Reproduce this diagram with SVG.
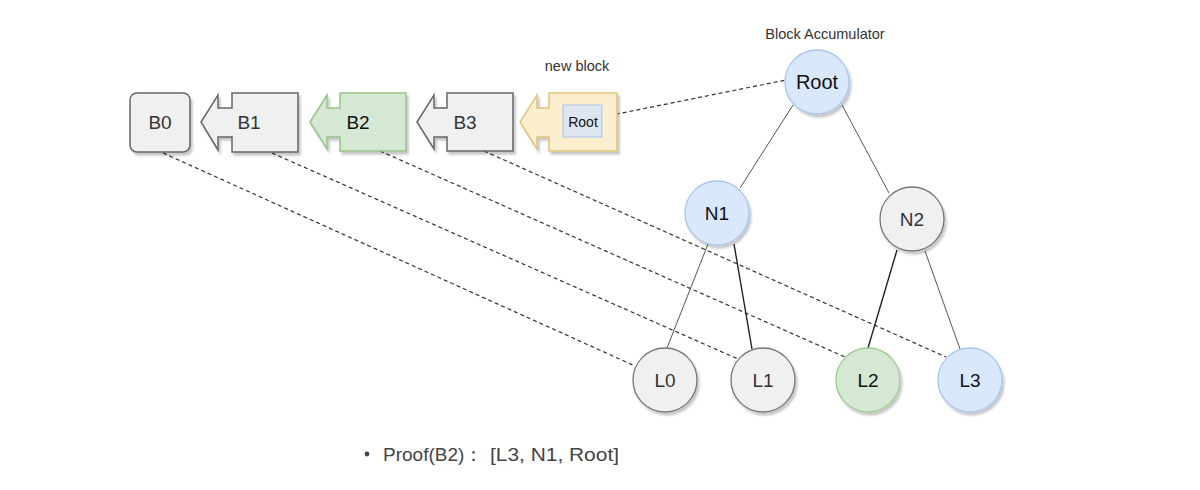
<svg xmlns="http://www.w3.org/2000/svg" width="1200" height="490" viewBox="0 0 1200 490">
<defs>
<filter id="sh" x="-20%" y="-20%" width="150%" height="150%">
<feDropShadow dx="2" dy="3" stdDeviation="1.2" flood-color="#000" flood-opacity="0.22"/>
</filter>
</defs>
<style>
text{font-family:"Liberation Sans",Arial,sans-serif;fill:#333;text-anchor:middle;}
.lbl{font-size:19px;}
.small{font-size:14.5px;}
.gray{fill:#f0f0f0;stroke:#666;stroke-width:1.5;}
.green{fill:#d5e8d4;stroke:#97c287;stroke-width:1.5;}
.yellow{fill:#fbefd0;stroke:#e0c477;stroke-width:1.5;}
.blue{fill:#dae8fc;stroke:#a9c4eb;stroke-width:1.5;}
.cgray{fill:#f0f0f0;stroke:#777;stroke-width:1.3;}
.cgreen{fill:#d5e8d4;stroke:#9fca8f;stroke-width:1.3;}
.cblue{fill:#dae8fc;stroke:#a9c4eb;stroke-width:1.3;}
.dash{stroke:#333;stroke-width:1.2;stroke-dasharray:4,3;fill:none;}
.tree{stroke:#555;stroke-width:1;fill:none;}
.treeb{stroke:#222;stroke-width:1.4;fill:none;}
</style>
<g id="connectors">
<line class="dash" x1="163" y1="153" x2="635" y2="366"/>
<line class="dash" x1="272" y1="153" x2="738" y2="359"/>
<line class="dash" x1="380" y1="151" x2="845" y2="357"/>
<line class="dash" x1="484" y1="151" x2="946" y2="357"/>
<line class="dash" x1="602" y1="117" x2="786" y2="80"/>
<line class="tree" x1="793" y1="105" x2="740" y2="188"/>
<line class="tree" x1="842" y1="105" x2="889" y2="193"/>
<line class="tree" x1="708" y1="244" x2="667" y2="348"/>
<line class="treeb" x1="734" y1="244" x2="752" y2="349"/>
<line class="treeb" x1="897" y1="250" x2="868" y2="348"/>
<line class="tree" x1="925" y1="251" x2="960" y2="349"/>
</g>
<g id="B0">
<rect class="gray" x="130" y="93" width="60" height="59" rx="7" filter="url(#sh)"/>
<text class="lbl" x="160" y="129">B0</text>
</g>
<g id="B1">
<path class="gray" d="M201,122 L218,95 L218,108 L232,108 L232,93 L298,93 L298,152 L232,152 L232,137 L218,137 L218,150 Z" filter="url(#sh)"/>
<text class="lbl" x="249" y="129">B1</text>
</g>
<g id="B2">
<path class="green" d="M310,122 L327,95 L327,108 L340,108 L340,93 L406,93 L406,151 L340,151 L340,137 L327,137 L327,149 Z" filter="url(#sh)"/>
<text class="lbl" x="358" y="129" style="fill:#111">B2</text>
</g>
<g id="B3">
<path class="gray" d="M417,122 L434,95 L434,108 L447,108 L447,93 L513,93 L513,151 L447,151 L447,137 L434,137 L434,149 Z" filter="url(#sh)"/>
<text class="lbl" x="465" y="129">B3</text>
</g>
<g id="newblock">
<path class="yellow" d="M520,122 L537,95 L537,108 L549,108 L549,93 L617,93 L617,151 L549,151 L549,137 L537,137 L537,149 Z" filter="url(#sh)"/>
<rect x="563" y="105" width="39" height="32" fill="#dde6ee" stroke="#a9c4eb" stroke-width="1"/>
<text x="583" y="127" style="font-size:14px;fill:#111">Root</text>
<text class="small" x="577" y="71">new block</text>
</g>
<g id="Root">
<circle class="cblue" cx="817" cy="82" r="32" filter="url(#sh)"/>
<text x="817" y="89" style="font-size:20px;fill:#111">Root</text>
<text class="small" x="825" y="39">Block Accumulator</text>
</g>
<g id="N1">
<circle class="cblue" cx="717" cy="213" r="32" filter="url(#sh)"/>
<text class="lbl" x="717" y="220" style="fill:#111">N1</text>
</g>
<g id="N2">
<circle class="cgray" cx="912" cy="219" r="32" filter="url(#sh)"/>
<text class="lbl" x="912" y="226">N2</text>
</g>
<g id="L0">
<circle class="cgray" cx="665" cy="380" r="32" filter="url(#sh)"/>
<text class="lbl" x="665" y="387">L0</text>
</g>
<g id="L1">
<circle class="cgray" cx="763" cy="380" r="32" filter="url(#sh)"/>
<text class="lbl" x="763" y="387">L1</text>
</g>
<g id="L2">
<circle class="cgreen" cx="868" cy="380" r="32" filter="url(#sh)"/>
<text class="lbl" x="868" y="387" style="fill:#111">L2</text>
</g>
<g id="L3">
<circle class="cblue" cx="970" cy="380" r="32" filter="url(#sh)"/>
<text class="lbl" x="970" y="387" style="fill:#111">L3</text>
</g>
<g id="proof">
<circle cx="367" cy="454" r="2.4" fill="#444"/>
<text x="383" y="461" style="font-size:19px;text-anchor:start;fill:#444">Proof(B2)：<tspan x="490" textLength="129" lengthAdjust="spacingAndGlyphs">[L3, N1, Root]</tspan></text>
</g>
</svg>
